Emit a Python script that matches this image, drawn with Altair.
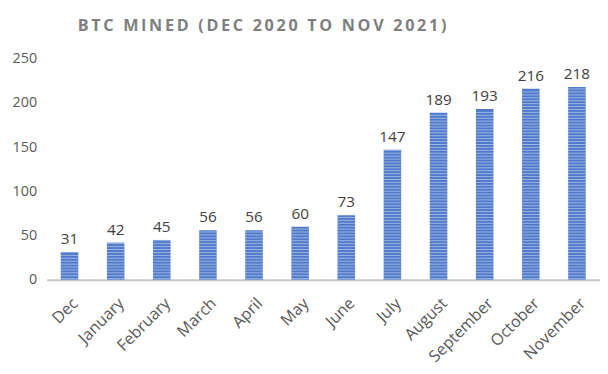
import altair as alt
import pandas as pd
import numpy as np

months = ["Dec", "January", "February", "March", "April", "May", "June",
          "July", "August", "September", "October", "November"]
btc = [31, 42, 45, 56, 56, 60, 73, 147, 189, 193, 216, 218]
title_text = "BTC MINED (DEC 2020 TO NOV 2021)"

df = pd.DataFrame({"month": months, "btc": btc})

# decorative horizontal stripes inside each bar
rows = []
for m, v in zip(months, btc):
    for y in np.arange(1.2, v - 0.5, 3.3):
        rows.append({"month": m, "y": float(y)})
stripes = pd.DataFrame(rows)

xscale = alt.Scale(domain=months, paddingInner=0.62, paddingOuter=0.31)
yscale = alt.Scale(domain=[0, 250], nice=False)

x = alt.X("month:N", sort=months, scale=xscale, title=None,
          axis=alt.Axis(labelAngle=-45, labelAlign="right", labelBaseline="middle",
                        labelFont="Open Sans", labelFontSize=16.3, labelColor="#595959",
                        ticks=False, domainColor="#C8C8C8", domainWidth=2,
                        labelPadding=21, labelOffset=6))

bars = alt.Chart(df).mark_bar(color="#4F7ACB").encode(
    x=x,
    y=alt.Y("btc:Q", scale=yscale, title=None,
            axis=alt.Axis(values=[0, 50, 100, 150, 200, 250], grid=False, domain=False,
                          ticks=False, labelFont="Open Sans", labelFontSize=14.5,
                          labelColor="#595959", labelPadding=10)),
)

lines = alt.Chart(stripes).mark_tick(color="#ffffff", opacity=0.45, thickness=1, size=18).encode(
    x=alt.X("month:N", sort=months, scale=xscale),
    y=alt.Y("y:Q", scale=yscale),
)

labels = alt.Chart(df).mark_text(dy=-13, font="Open Sans", fontSize=15.5, color="#404040").encode(
    x=alt.X("month:N", sort=months, scale=xscale),
    y=alt.Y("btc:Q", scale=yscale),
    text="btc:Q",
)

spaced_title = "\u2009".join(title_text)

chart = alt.layer(bars, lines, labels).properties(
    width=561, height=224,
    title=alt.TitleParams(spaced_title, anchor="middle", dx=-62,
                          font="Open Sans", fontSize=16.4, fontWeight="bold",
                          color="#7F7F7F", offset=17),
    padding={"left": 39, "top": 49, "right": 0, "bottom": 85},
    autosize=alt.AutoSizeParams(type="none"),
).configure_view(stroke=None).configure_title(limit=0)

chart.save("out.html", embed_options={"renderer": "svg", "actions": False})
